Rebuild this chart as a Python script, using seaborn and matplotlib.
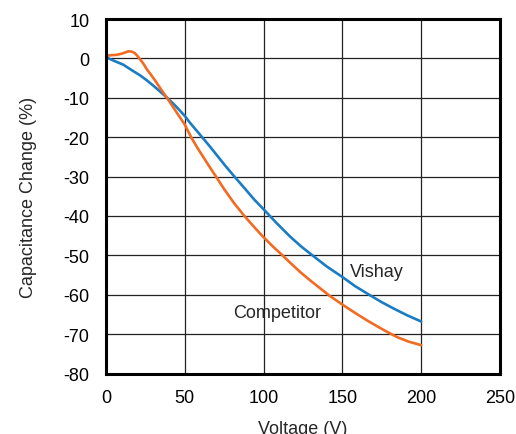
import matplotlib
matplotlib.use("Agg")
import matplotlib.pyplot as plt
import pandas as pd
import seaborn as sns

# values
voltage_vishay = [0, 5, 11, 16, 22, 26, 30, 34, 38.5, 43, 47, 50, 53, 57, 61, 66, 71, 76, 81.5, 88, 94,
                  100, 108, 117, 124, 131, 140, 150, 158, 167, 175, 183, 191, 200]
change_vishay = [0.3, -0.6, -1.6, -2.9, -4.4, -5.6, -6.9, -8.3, -9.9, -11.6, -13.3, -14.6, -16.2, -18.1, -20.0,
                 -22.4, -24.9, -27.4, -30.0, -33.0, -35.8, -38.3, -41.7, -45.3, -47.8, -50.0, -52.8, -55.5,
                 -57.8, -60.0, -61.9, -63.6, -65.2, -66.8]

voltage_competitor = [0, 3, 6.7, 10, 14.2, 16.5, 18.4, 20, 21.6, 24, 25.8, 29, 32, 35, 38.5, 41.5, 44.8, 50,
                      54, 58, 62, 66, 69.8, 75, 81, 87.8, 94, 99.5, 106, 112, 118, 124, 130, 135.4, 142, 150,
                      158, 166, 172, 177.8, 185, 192, 200]
change_competitor = [0.7, 0.8, 0.9, 1.2, 1.8, 1.7, 1.3, 0.6, -0.2, -1.5, -2.7, -4.4, -6.1, -7.9, -9.9, -11.7,
                     -13.7, -16.8, -20.0, -22.7, -25.2, -27.7, -30.0, -33.2, -36.6, -40.0, -42.8, -45.2,
                     -47.8, -50.0, -52.3, -54.5, -56.5, -58.2, -60.3, -62.5, -64.6, -66.6, -68.0, -69.3,
                     -70.8, -71.9, -72.8]

series_names = ["Vishay", "Competitor"]
series_colors = ["#1a7dc4", "#f26b21"]

df = pd.concat([
    pd.DataFrame({"voltage": voltage_vishay, "change": change_vishay, "part": "Vishay"}),
    pd.DataFrame({"voltage": voltage_competitor, "change": change_competitor, "part": "Competitor"}),
], ignore_index=True)

sns.set_style("white")
plt.rcParams["font.family"] = ["Liberation Sans", "DejaVu Sans"]
plt.rcParams["axes.unicode_minus"] = False

fig = plt.figure(figsize=(5.16, 4.35), dpi=100)
ax = fig.add_axes([0.2054, 0.139, 0.7636, 0.815])

sns.lineplot(data=df, x="voltage", y="change", hue="part", hue_order=series_names,
             palette=series_colors, linewidth=1.9, legend=False, ax=ax, sort=False, zorder=3)

ax.set_xlim(0, 250)
ax.set_ylim(-80, 10)
ax.set_xticks(range(0, 251, 50))
ax.set_yticks(range(-80, 11, 10))
ax.grid(True, color="#222222", linewidth=0.9)
ax.set_axisbelow(True)
for spine in ax.spines.values():
    spine.set_color("black")
    spine.set_linewidth(2.2)
    spine.set_zorder(5)
ax.tick_params(axis="x", length=0, labelsize=13, pad=11, colors="black")
ax.tick_params(axis="y", length=0, labelsize=13, pad=12, colors="black")

ax.set_xlabel("Voltage (V)", fontsize=13, labelpad=10)
ax.set_ylabel("Capacitance Change (%)", fontsize=13, labelpad=19)

ax.text(172, -54.2, "Vishay", fontsize=13, ha="center", va="center", zorder=4)
ax.text(108.5, -64.4, "Competitor", fontsize=13, ha="center", va="center", zorder=4)

fig.savefig("out.png", dpi=100)
